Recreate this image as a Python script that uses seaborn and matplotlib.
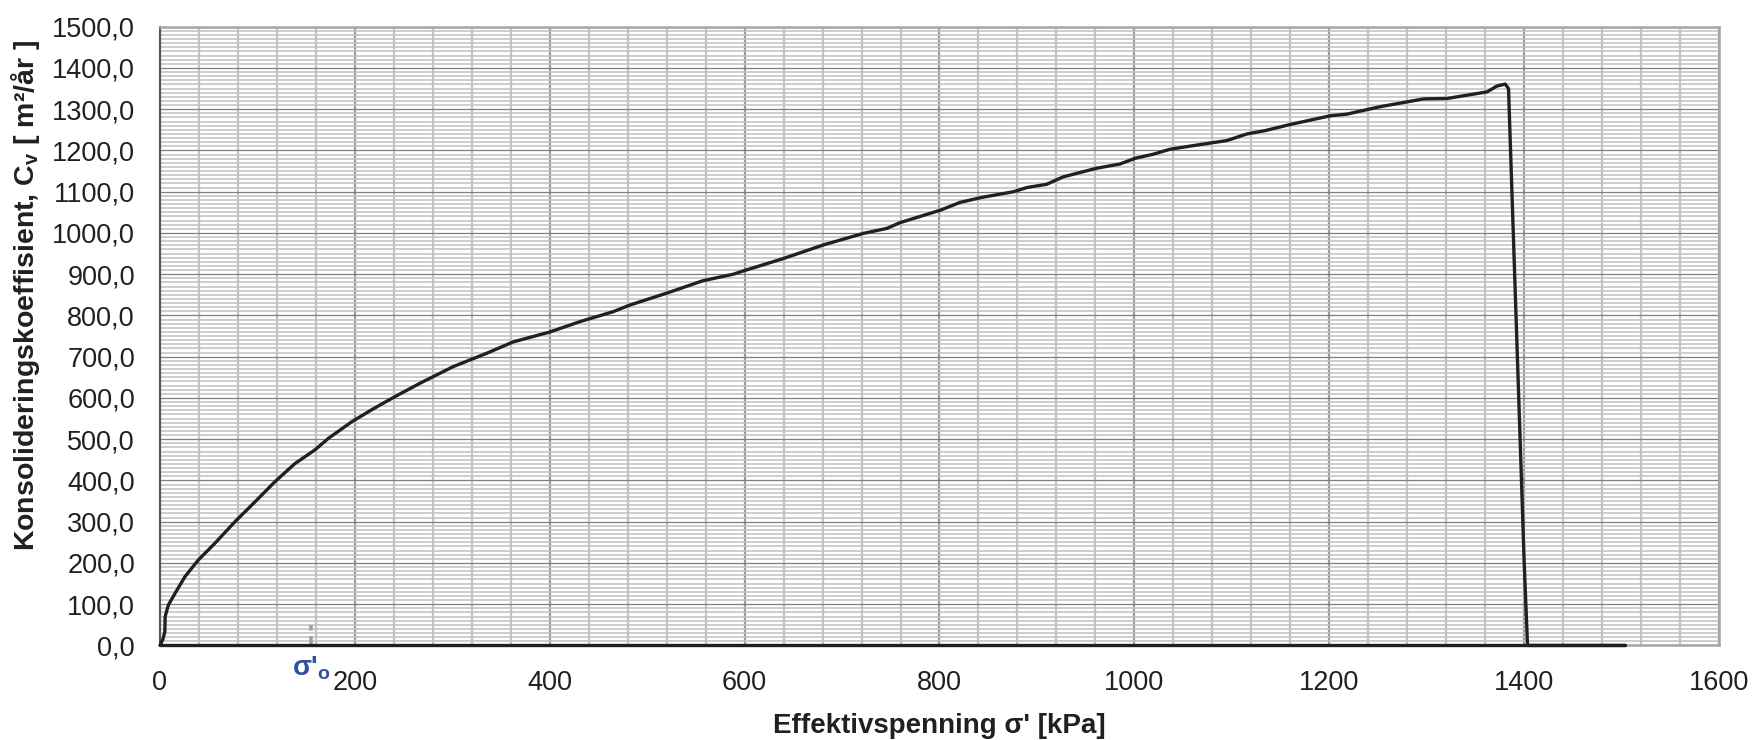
import matplotlib
matplotlib.use("Agg")
import matplotlib.pyplot as plt
import matplotlib.ticker as mticker
import matplotlib.transforms as mtransforms
import seaborn as sns
import pandas as pd

# ---- data ----
stress_kpa = [0, 3, 5, 5.3, 8.6, 15.4, 25.7, 39.3, 56.5, 77, 97.5, 118, 138.6, 159,
              172.8, 196.7, 217, 241, 268, 301, 335, 362.7, 400.3, 431, 465, 482,
              520, 557, 588.5, 598.8, 639.8, 680.9, 722, 746, 759.6, 800.7, 821,
              843, 876, 889.6, 910, 927, 961.5, 985, 1000.8, 1019.6, 1036.7, 1064,
              1095, 1115.5, 1134, 1160, 1201, 1218, 1252, 1297, 1321, 1362, 1372,
              1380.6, 1384, 1400, 1403.5, 1504]
cv_values = [0, 15, 33, 70, 98, 126, 167, 207, 248, 300, 348, 397, 441, 474,
             502, 542, 571, 603, 637, 676, 708, 736, 760, 785, 809, 825,
             854, 884, 900, 908, 938, 971, 999, 1011, 1025, 1055, 1074,
             1086, 1100, 1110, 1118, 1136, 1157, 1167, 1181, 1191, 1203, 1213,
             1224, 1240, 1248, 1263, 1284, 1288, 1306, 1325, 1326, 1342, 1356,
             1361, 1350, 207, 0, 0]
baseline_x = [0, 1504]
baseline_y = [0, 0]
sigma0_kpa = 155
sigma0_marker_y = [0, 50]

x_ticks = [0, 200, 400, 600, 800, 1000, 1200, 1400, 1600]
y_ticks = [0, 100, 200, 300, 400, 500, 600, 700, 800, 900, 1000, 1100, 1200, 1300, 1400, 1500]
y_tick_labels = [f"{v:.1f}".replace(".", ",") for v in y_ticks]

x_label = "Effektivspenning σ' [kPa]"
y_label = r"Konsolideringskoeffisient, C$_\mathbf{v}$ [ m²/år ]"
sigma0_label = r"σ'$_\mathbf{o}$"

# ---- style ----
sns.set_theme(style="white")
plt.rcParams["font.family"] = ["Liberation Sans", "DejaVu Sans"]
plt.rcParams["mathtext.fontset"] = "custom"
plt.rcParams["mathtext.rm"] = "Liberation Sans"
plt.rcParams["mathtext.bf"] = "Liberation Sans:bold"
plt.rcParams["mathtext.it"] = "Liberation Sans:italic"

dark = "#231f20"

fig, ax = plt.subplots(figsize=(17.58, 7.4), dpi=100)
fig.subplots_adjust(left=0.0910, right=0.9778, bottom=0.1278, top=0.9639)

curve = pd.DataFrame({"x": stress_kpa, "y": cv_values})
base = pd.DataFrame({"x": baseline_x, "y": baseline_y})
marker = pd.DataFrame({"x": [sigma0_kpa, sigma0_kpa], "y": sigma0_marker_y})

sns.lineplot(data=base, x="x", y="y", sort=False, estimator=None, ax=ax,
             color=dark, linewidth=2.4, zorder=4, clip_on=False)
sns.lineplot(data=curve, x="x", y="y", sort=False, estimator=None, ax=ax,
             color=dark, linewidth=2.4, zorder=5, clip_on=False)
sns.lineplot(data=marker, x="x", y="y", sort=False, estimator=None, ax=ax,
             color="#a0a0a0", linewidth=2.6, linestyle=(0, (2.5, 1.5)), zorder=3)

ax.set_xlim(0, 1600)
ax.set_ylim(0, 1500)
ax.set_xticks(x_ticks)
ax.set_xticklabels([str(v) for v in x_ticks])
ax.set_yticks(y_ticks)
ax.set_yticklabels(y_tick_labels)
ax.xaxis.set_minor_locator(mticker.MultipleLocator(40))
ax.yaxis.set_minor_locator(mticker.MultipleLocator(10))

ax.set_axisbelow(True)
ax.grid(which="minor", axis="y", color="#c2c2c2", linewidth=1.15)
ax.grid(which="minor", axis="x", color="#c4c4c4", linewidth=1.6)
ax.grid(which="major", axis="y", color="#7f7f7f", linewidth=0.9)
ax.grid(which="major", axis="x", color="#9a9a9a", linewidth=1.6)

ax.tick_params(axis="x", which="major", direction="out", length=9, width=1.2,
               color="#555555", labelsize=19.5, labelcolor=dark, pad=9)
ax.tick_params(axis="x", which="minor", direction="in", length=6, width=1.2,
               color="#555555")
ax.tick_params(axis="y", which="major", direction="out", length=8, width=1.2,
               color="#444444", labelsize=19.5, labelcolor=dark, pad=10)
ax.tick_params(axis="y", which="minor", length=0)

for side in ["top", "right", "bottom"]:
    ax.spines[side].set_color("#a6a6a6")
    ax.spines[side].set_linewidth(1.8)
ax.spines["left"].set_color("#555555")
ax.spines["left"].set_linewidth(1.5)

ax.set_xlabel(x_label, fontsize=20, fontweight="bold", color=dark, labelpad=12)
ax.set_ylabel(y_label, fontsize=20.5, fontweight="bold", color=dark)
ax.yaxis.set_label_coords(-0.0757, 0.566)

trans = mtransforms.blended_transform_factory(ax.transData, ax.transAxes)
ax.text(sigma0_kpa - 20, -0.048, sigma0_label, transform=trans, ha="left",
        va="baseline", fontsize=20, fontweight="bold", color="#2f4f9f")

fig.savefig("out.png", dpi=100)
